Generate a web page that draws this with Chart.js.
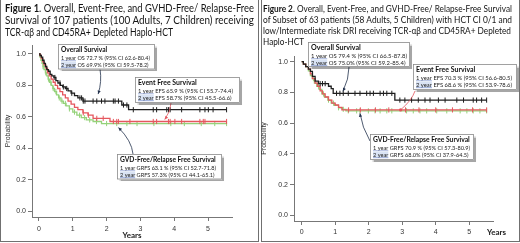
<!DOCTYPE html>
<html>
<head>
<meta charset="utf-8">
<script src="https://cdn.jsdelivr.net/npm/chart.js@4.4.1/dist/chart.umd.min.js"></script>
<style>
  html, body { margin: 0; padding: 0; background: #fff; }
  body { position: relative; width: 520px; height: 243px; overflow: hidden; }
  .panel { position: absolute; top: -1px; height: 243px; box-sizing: border-box; border: 1px solid #707070; }
  canvas { position: absolute; top: 0; }
  .tl { position: absolute; white-space: nowrap; color: #141414; font-family: Lato, "Open Sans", sans-serif; transform-origin: 0 0; }
  .t1 { font-size: 10.5px; line-height: 12px; }
  .t2 { font-size: 10px; line-height: 11px; }
</style>
</head>
<body>
<div class="panel" style="left:0;width:259px"></div>
<div class="panel" style="left:261px;width:259px"></div>
<canvas id="c1" width="260" height="243" style="left:0"></canvas>
<canvas id="c2" width="260" height="243" style="left:260px"></canvas>

<div class="tl t1" style="left:5px;top:2px" data-w="249"><b>Figure 1</b>. Overall, Event-Free, and GVHD-Free/ Relapse-Free</div>
<div class="tl t1" style="left:5px;top:14px" data-w="249">Survival of 107 patients (100 Adults, 7 Children) receiving</div>
<div class="tl t1" style="left:5px;top:26px" data-w="168">TCR-αβ and CD45RA+ Depleted Haplo-HCT</div>

<div class="tl t2" style="left:263px;top:2.5px" data-w="249"><b>Figure 2</b>. Overall, Event-Free, and GVHD-Free/ Relapse-Free Survival</div>
<div class="tl t2" style="left:263px;top:14px" data-w="249">of Subset of 63 patients (58 Adults, 5 Children) with HCT CI 0/1 and</div>
<div class="tl t2" style="left:263px;top:25px" data-w="248">low/Intermediate risk DRI receiving TCR-αβ and CD45RA+ Depleted</div>
<div class="tl t2" style="left:263px;top:35.5px" data-w="41">Haplo-HCT</div>

<script>
// axis ticks
var xTickVals = [0, 1, 2, 3, 4, 5];
var yTickVals = [0, 0.2, 0.4, 0.6, 0.8, 1.0];

// Figure 1: all 107 patients (years, survival probability after each drop)
var f1End = 5.55;
var f1OsTime = [0.03, 0.07, 0.11, 0.15, 0.19, 0.23, 0.28, 0.33, 0.38, 0.44, 0.5, 0.56, 0.63, 0.7, 0.78, 0.86, 0.95, 1.05, 1.15, 1.3, 2.45, 2.65];
var f1OsSurv = [0.99, 0.98, 0.96, 0.94, 0.92, 0.90, 0.89, 0.87, 0.86, 0.85, 0.83, 0.815, 0.80, 0.79, 0.78, 0.765, 0.75, 0.735, 0.72, 0.70, 0.675, 0.645];
var f1OsCens = [0.47, 0.62, 0.72, 0.82, 0.97, 1.21, 1.26, 1.31, 1.36, 1.6, 1.71, 1.85, 1.95, 2.2, 2.25, 2.35, 2.5, 2.6, 2.79, 3.38, 3.48, 3.78, 3.83, 3.88, 4.22, 4.76, 4.91, 5.01, 5.15, 5.55];
var f1EfsTime = [0.03, 0.07, 0.11, 0.15, 0.2, 0.25, 0.3, 0.36, 0.42, 0.48, 0.55, 0.62, 0.7, 0.78, 0.86, 0.95, 1.05, 1.15, 1.3, 1.45, 1.6, 2.1];
var f1EfsSurv = [0.99, 0.97, 0.95, 0.93, 0.91, 0.88, 0.86, 0.84, 0.82, 0.80, 0.78, 0.76, 0.74, 0.72, 0.70, 0.68, 0.66, 0.645, 0.625, 0.61, 0.59, 0.57];
var f1EfsCens = [1.31, 1.46, 1.71, 1.9, 2.2, 2.3, 2.35, 2.69, 3.38, 3.48, 3.83, 3.88, 4.02, 4.22, 4.76, 4.86, 4.91, 5.55];
var f1GrfsTime = [0.03, 0.06, 0.09, 0.12, 0.15, 0.19, 0.23, 0.27, 0.31, 0.36, 0.41, 0.46, 0.52, 0.58, 0.65, 0.72, 0.8, 0.9, 1.0, 1.12, 1.25, 1.4, 1.6, 1.85];
var f1GrfsSurv = [0.98, 0.96, 0.94, 0.92, 0.90, 0.88, 0.86, 0.84, 0.82, 0.80, 0.78, 0.76, 0.74, 0.72, 0.70, 0.685, 0.67, 0.65, 0.63, 0.61, 0.595, 0.58, 0.57, 0.557];
var f1GrfsCens = [0.12, 0.2, 0.28, 0.35, 0.42, 0.5, 0.6, 0.68, 0.78, 0.9, 1.05, 1.2, 1.35, 1.5, 1.7, 2.0, 2.3, 2.6, 2.9, 3.4, 3.9, 4.3, 4.8, 5.2, 5.55];

// Figure 2: subset of 63 patients
var f2End = 5.52;
var f2OsTime = [0.05, 0.12, 0.2, 0.26, 0.32, 0.4, 0.5, 0.8, 0.88, 0.94, 2.78];
var f2OsSurv = [0.984, 0.968, 0.952, 0.937, 0.905, 0.873, 0.857, 0.84, 0.825, 0.794, 0.75];
var f2OsCens = [0.55, 0.62, 0.7, 1.04, 1.14, 1.24, 1.39, 1.59, 1.74, 1.94, 2.04, 2.14, 2.34, 2.44, 2.54, 2.69, 2.93, 3.08, 3.28, 3.48, 3.68, 3.83, 4.08, 4.28, 4.63, 4.83, 5.12, 5.22, 5.37, 5.52];
var f2EfsTime = [0.05, 0.12, 0.2, 0.26, 0.32, 0.4, 0.47, 0.55, 0.62, 0.7, 0.8, 0.9, 1.0, 1.1, 1.2];
var f2EfsSurv = [0.984, 0.968, 0.952, 0.92, 0.89, 0.86, 0.84, 0.81, 0.79, 0.77, 0.75, 0.73, 0.718, 0.703, 0.686];
var f2EfsCens = [1.4, 1.75, 2.2, 2.6, 3.1, 3.5, 4.0, 4.5, 5.1, 5.52];
var f2GrfsTime = [0.05, 0.12, 0.2, 0.26, 0.32, 0.38, 0.45, 0.52, 0.6, 0.68, 0.78, 0.88, 0.98, 1.1, 1.22, 1.32];
var f2GrfsSurv = [0.984, 0.968, 0.94, 0.91, 0.89, 0.86, 0.84, 0.82, 0.79, 0.77, 0.75, 0.73, 0.715, 0.70, 0.69, 0.68];
var f2GrfsCens = [0.35, 0.5, 0.65, 0.8, 0.95, 1.1, 1.24, 1.39, 1.64, 1.74, 1.99, 2.19, 2.34, 2.54, 2.69, 3.13, 3.33, 3.53, 3.73, 4.03, 4.33, 4.73, 4.93, 5.12, 5.32, 5.52];

var BLACK = '#1e1e1e', RED = '#e5575e', GREEN = '#95d27a', NAVY = '#23324d';

// fit title lines to the widths seen in the figure
document.querySelectorAll('.tl').forEach(function (el) {
  var w = parseFloat(el.dataset.w);
  if (w) el.style.transform = 'scaleX(' + (w / el.getBoundingClientRect().width) + ')';
});

function survAt(times, surv, t) {
  var s = 1;
  for (var i = 0; i < times.length; i++) if (times[i] <= t) s = surv[i];
  return s;
}

function curve(times, surv, end, color) {
  var pts = [{x: 0, y: 1}];
  times.forEach(function (t, i) { pts.push({x: t, y: surv[i]}); });
  pts.push({x: end, y: surv[surv.length - 1]});
  return {data: pts, showLine: true, stepped: true, borderColor: color, borderWidth: 1.3, pointRadius: 0};
}

function censored(times, surv, cens, color) {
  return {
    data: cens.map(function (t) { return {x: t, y: survAt(times, surv, t)}; }),
    showLine: false, pointStyle: 'line', pointRotation: 90, pointRadius: 2.6,
    pointBorderWidth: 1, pointBorderColor: color, borderColor: color
  };
}

function drawRow(ctx, x, y, s, prefix, rest, hl) {
  ctx.save();
  ctx.translate(x, y);
  ctx.scale(s, 1);
  ctx.font = '6px Lato';
  var pw = ctx.measureText(prefix).width;
  if (hl) { ctx.fillStyle = '#d9e3f4'; ctx.fillRect(0, -5, pw, 6.5); }
  ctx.fillStyle = '#222';
  ctx.fillText(prefix, 0, 0);
  ctx.fillText(rest, pw, 0);
  ctx.strokeStyle = '#6f86c6';
  ctx.lineWidth = 0.6;
  ctx.beginPath(); ctx.moveTo(0, 1.2); ctx.lineTo(pw, 1.2); ctx.stroke();
  ctx.restore();
}

function annotations(spec) {
  return {
    id: 'notes',
    afterDatasetsDraw: function (chart) {
      var ctx = chart.ctx, xs = chart.scales.x, ys = chart.scales.y;
      ctx.save();
      spec.arrows.forEach(function (a) {
        var tx = xs.getPixelForValue(a.to[0]), ty = ys.getPixelForValue(a.to[1]) + a.gap;
        var sx = a.from[0], sy = a.from[1];
        var cx = (sx + tx) / 2 + a.bend, cy = (sy + ty) / 2;
        ctx.strokeStyle = a.color; ctx.fillStyle = a.color; ctx.lineWidth = 0.8;
        ctx.beginPath(); ctx.moveTo(sx, sy); ctx.quadraticCurveTo(cx, cy, tx, ty); ctx.stroke();
        if (a.dot) {
          ctx.beginPath(); ctx.arc(tx, ty, 1.6, 0, Math.PI * 2); ctx.fill();
        } else {
          var ang = Math.atan2(ty - cy, tx - cx);
          ctx.beginPath();
          ctx.moveTo(tx, ty);
          ctx.lineTo(tx - 3.5 * Math.cos(ang) + 1.6 * Math.sin(ang), ty - 3.5 * Math.sin(ang) - 1.6 * Math.cos(ang));
          ctx.lineTo(tx - 3.5 * Math.cos(ang) - 1.6 * Math.sin(ang), ty - 3.5 * Math.sin(ang) + 1.6 * Math.cos(ang));
          ctx.closePath(); ctx.fill();
        }
      });
      spec.boxes.forEach(function (b) {
        ctx.save();
        ctx.shadowColor = 'rgba(0,0,0,0.35)'; ctx.shadowOffsetX = 1.5; ctx.shadowOffsetY = 1.5; ctx.shadowBlur = 1;
        ctx.fillStyle = '#fff'; ctx.fillRect(b.x, b.y, b.w, b.h);
        ctx.restore();
        ctx.strokeStyle = '#8a8a8a'; ctx.lineWidth = 0.8;
        ctx.strokeRect(b.x + 0.5, b.y + 0.5, b.w - 1, b.h - 1);
        ctx.font = '6px Lato';
        var s = b.fit / ctx.measureText(b.rows[0][0] + b.rows[0][1]).width;
        ctx.save();
        ctx.translate(b.x + 3, b.y + 8); ctx.scale(s, 1);
        ctx.font = 'bold 7.2px Lato'; ctx.fillStyle = '#111';
        ctx.fillText(b.title, 0, 0);
        ctx.restore();
        drawRow(ctx, b.x + 3, b.y + 15.5, s, b.rows[0][0], b.rows[0][1], false);
        drawRow(ctx, b.x + 3, b.y + 22.5, s, b.rows[1][0], b.rows[1][1], true);
      });
      (spec.labels || []).forEach(function (l) {
        ctx.font = 'bold 8px Lato'; ctx.fillStyle = '#222'; ctx.textBaseline = 'middle';
        ctx.fillText(l.text, chart.chartArea.right + l.dx, l.y);
      });
      ctx.restore();
    }
  };
}

function kmChart(id, datasets, g, spec) {
  return new Chart(document.getElementById(id), {
    type: 'scatter',
    data: {datasets: datasets},
    options: {
      responsive: false, animation: false, devicePixelRatio: 1,
      layout: {padding: g.pad},
      plugins: {legend: {display: false}, tooltip: {enabled: false}},
      scales: {
        x: {
          type: 'linear', min: g.xMin, max: g.xMax,
          afterBuildTicks: function (a) { a.ticks = xTickVals.map(function (v) { return {value: v}; }); },
          afterFit: function (a) { a.height = g.xH; },
          grid: {drawOnChartArea: false, tickLength: 4, color: '#777'},
          border: {color: '#777'},
          ticks: {autoSkip: false, maxRotation: 0, padding: g.xPad, color: '#333', font: {family: 'Liberation Sans', size: 7}},
          title: g.xTitle
        },
        y: {
          min: g.yMin, max: g.yMax,
          afterBuildTicks: function (a) { a.ticks = yTickVals.map(function (v) { return {value: v}; }); },
          afterFit: function (a) { a.width = g.yW; },
          grid: {drawOnChartArea: false, tickLength: 4, color: '#777'},
          border: {color: '#777'},
          ticks: {autoSkip: false, padding: 2, color: '#333', font: {family: 'Liberation Sans', size: 7},
                  callback: function (v) { return v.toFixed(1); }},
          title: {display: true, text: 'Probability', color: '#333', font: {family: 'Liberation Sans', size: 7},
                  padding: {top: g.yTitlePad, bottom: 0}}
        }
      }
    },
    plugins: [annotations(spec)]
  });
}

kmChart('c1', [
  curve(f1OsTime, f1OsSurv, f1End, BLACK),
  censored(f1OsTime, f1OsSurv, f1OsCens, BLACK),
  curve(f1EfsTime, f1EfsSurv, f1End, RED),
  censored(f1EfsTime, f1EfsSurv, f1EfsCens, RED),
  curve(f1GrfsTime, f1GrfsSurv, f1End, GREEN),
  censored(f1GrfsTime, f1GrfsSurv, f1GrfsCens, GREEN)
], {
  pad: {left: 0, right: 28, top: 45, bottom: 2},
  xMin: -0.207, xMax: 5.71, yMin: -0.038, yMax: 1.057,
  xH: 24, yW: 32, xPad: 3.8, yTitlePad: 4,
  xTitle: {display: true, text: 'Years', color: '#222', font: {family: 'Lato', weight: 'bold', size: 8}, padding: {top: 0, bottom: 1}}
}, {
  boxes: [
    {x: 58, y: 44, w: 97, h: 25.5, fit: 89, title: 'Overall Survival',
     rows: [['1 year', ' OS 72.7 % (95% CI 62.6-80.4)'], ['2 year', ' OS 69.9% (95% CI 59.5-78.2)']]},
    {x: 135, y: 77, w: 105, h: 26, fit: 95, title: 'Event Free Survival',
     rows: [['1 year', ' EFS 65.9 % (95% CI 55.7-74.4)'], ['2 year', ' EFS 58.7% (95% CI 45.5-66.6)']]},
    {x: 117, y: 154, w: 105, h: 25.5, fit: 96, title: 'GVD-Free/Relapse Free Survival',
     rows: [['1 year', ' GRFS 63.1 % (95% CI 52.7-71.8)'], ['2 year', ' GRFS 57.3% (95% CI 44.1-65.1)']]}
  ],
  arrows: [
    {from: [100, 69], to: [1.75, 0.70], gap: -7, bend: 3, color: NAVY},
    {from: [171, 103], to: [3.72, 0.57], gap: -2, bend: 3, color: RED},
    {from: [133, 154], to: [2.35, 0.557], gap: 4, bend: 6, color: NAVY}
  ]
});

kmChart('c2', [
  curve(f2OsTime, f2OsSurv, f2End, BLACK),
  censored(f2OsTime, f2OsSurv, f2OsCens, BLACK),
  curve(f2EfsTime, f2EfsSurv, f2End, RED),
  censored(f2EfsTime, f2EfsSurv, f2EfsCens, RED),
  curve(f2GrfsTime, f2GrfsSurv, f2End, GREEN),
  censored(f2GrfsTime, f2GrfsSurv, f2GrfsCens, GREEN)
], {
  pad: {left: 0, right: 27, top: 56, bottom: 2},
  xMin: -0.23, xMax: 5.71, yMin: -0.037, yMax: 1.037,
  xH: 20, yW: 34, xPad: 2.8, yTitlePad: 0,
  xTitle: {display: false}
}, {
  boxes: [
    {x: 48, y: 42, w: 102, h: 25, fit: 96, title: 'Overall Survival',
     rows: [['1 year', ' OS 79.4 % (95% CI 66.5-87.8)'], ['2 year', ' OS 75.0% (95% CI 59.2-85.4)']]},
    {x: 153, y: 64, w: 104, h: 26, fit: 96, title: 'Event Free Survival',
     rows: [['1 year', ' EFS 70.3 % (95% CI 56.6-80.5)'], ['2 year', ' EFS 68.6 % (95% CI 53.9-78.6)']]},
    {x: 110, y: 134, w: 104, h: 26, fit: 97, title: 'GVD-Free/Relapse Free Survival',
     rows: [['1 year', ' GRFS 70.9 % (95% CI 57.3-80.9)'], ['2 year', ' GRFS 68.0% (95% CI 37.9-64.5)']]}
  ],
  arrows: [
    {from: [89, 67], to: [1.23, 0.794], gap: -2, bend: 3, color: NAVY},
    {from: [155, 91], to: [2.95, 0.686], gap: 0, bend: 4, color: RED, dot: true},
    {from: [110, 141], to: [1.74, 0.68], gap: 2.5, bend: -3, color: NAVY}
  ],
  labels: [{text: 'Years', dx: -6, y: 232}]
});
</script>
</body>
</html>
